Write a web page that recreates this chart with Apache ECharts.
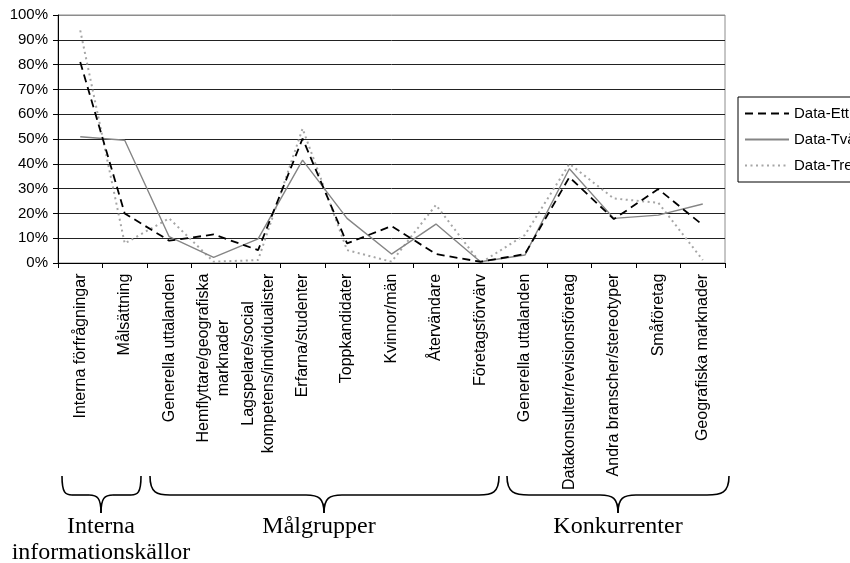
<!DOCTYPE html>
<html>
<head>
<meta charset="utf-8">
<script src="https://cdn.jsdelivr.net/npm/echarts@6/dist/echarts.min.js"></script>
<style>
  html, body { margin: 0; padding: 0; background: #ffffff; }
  #chart { width: 850px; height: 563px; }
</style>
</head>
<body>
<div id="chart"></div>
<script>
// Categories along the x axis (line breaks mark two-line labels)
const categories = [
  'Interna förfrågningar',
  'Målsättning',
  'Generella uttalanden',
  'Hemflyttare/geografiska\nmarknader',
  'Lagspelare/social\nkompetens/individualister',
  'Erfarna/studenter',
  'Toppkandidater',
  'Kvinnor/män',
  'Återvändare',
  'Företagsförvärv',
  'Generella uttalanden',
  'Datakonsulter/revisionsföretag',
  'Andra branscher/stereotyper',
  'Småföretag',
  'Geografiska marknader'
];

// Share of mentions per category, in percent
const dataEtt = [81, 20, 9, 11.5, 5.2, 50.2, 7.9, 14.9, 3.6, 0.5, 3.6, 34.6, 17.7, 29.8, 15.3];
const dataTva = [50.9, 49.5, 10.6, 2.3, 9.7, 41.5, 18, 3.6, 15.7, 0.5, 3.2, 38, 18, 19.3, 23.8];
const dataTre = [93.8, 7.9, 18, 0.5, 1.2, 54.2, 5.2, 0.5, 23.4, 0, 11.3, 40, 26, 24.3, 1.2];

const seriesNames = ['Data-Ett', 'Data-Två', 'Data-Tre'];

// Group captions under the category labels
const groupLabels = ['Interna\ninformationskällor', 'Målgrupper', 'Konkurrenter'];

const SANS = '"Liberation Sans", Arial, sans-serif';
const SERIF = '"Liberation Serif", "Times New Roman", serif';
const LABEL_SIZE = 16;

// Measure label lines so that two-line labels can be centred line by line
const measureCtx = document.createElement('canvas').getContext('2d');
measureCtx.font = LABEL_SIZE + 'px ' + SANS;
const rich = {};
categories.forEach(function (c, i) {
  const lines = c.split('\n');
  const w = Math.max.apply(null, lines.map(function (l) { return measureCtx.measureText(l).width; }));
  rich['w' + i] = {
    width: Math.ceil(w) + 1,
    align: 'center',
    fontSize: LABEL_SIZE,
    fontFamily: SANS,
    color: '#000',
    lineHeight: 20
  };
});

// Curly brace built from bezier curves and straight segments
function brace(x1, x2, xm, top, hy, tipY, rEnd1, rEnd2, rTip) {
  const st = { stroke: '#000', lineWidth: 1.6, fill: null };
  const els = [];
  els.push({ type: 'bezierCurve', silent: true, style: st,
    shape: { x1: x1, y1: top, cpx1: x1, cpy1: hy - 2, cpx2: x1 + rEnd1 * 0.35, cpy2: hy, x2: x1 + rEnd1, y2: hy } });
  els.push({ type: 'line', silent: true, style: st,
    shape: { x1: x1 + rEnd1, y1: hy, x2: xm - rTip, y2: hy } });
  els.push({ type: 'bezierCurve', silent: true, style: st,
    shape: { x1: xm - rTip, y1: hy, cpx1: xm - rTip * 0.3, cpy1: hy, cpx2: xm, cpy2: hy + 3, x2: xm, y2: tipY } });
  els.push({ type: 'bezierCurve', silent: true, style: st,
    shape: { x1: xm + rTip, y1: hy, cpx1: xm + rTip * 0.3, cpy1: hy, cpx2: xm, cpy2: hy + 3, x2: xm, y2: tipY } });
  els.push({ type: 'line', silent: true, style: st,
    shape: { x1: xm + rTip, y1: hy, x2: x2 - rEnd2, y2: hy } });
  els.push({ type: 'bezierCurve', silent: true, style: st,
    shape: { x1: x2, y1: top, cpx1: x2, cpy1: hy - 2, cpx2: x2 - rEnd2 * 0.35, cpy2: hy, x2: x2 - rEnd2, y2: hy } });
  return els;
}

const graphics = []
  .concat(brace(62, 141, 101, 476, 495, 513, 10, 10, 12))
  .concat(brace(150, 499, 324, 476, 495, 513, 20, 20, 18))
  .concat(brace(507, 729, 618, 476, 495, 513, 22, 22, 18));

const captionX = [101, 319, 618];
groupLabels.forEach(function (t, i) {
  graphics.push({
    type: 'text', silent: true,
    x: captionX[i], y: 514,
    style: {
      text: t, fill: '#000', font: '24px ' + SERIF,
      align: 'center', verticalAlign: 'top', lineHeight: 26
    }
  });
});

const chart = echarts.init(document.getElementById('chart'), null, { renderer: 'canvas' });

chart.setOption({
  backgroundColor: '#ffffff',
  animation: false,
  grid: {
    left: 58, right: 125, top: 15, bottom: 300,
    show: true, borderColor: '#8c8c8c', borderWidth: 1, backgroundColor: 'transparent'
  },
  legend: {
    orient: 'vertical',
    left: 738, top: 97,
    padding: [9, 30, 9, 6],
    itemGap: 11,
    itemWidth: 44,
    itemHeight: 14,
    borderColor: '#000',
    borderWidth: 1,
    data: seriesNames,
    itemStyle: { opacity: 0, borderWidth: 0 },
    textStyle: { fontSize: 15, fontFamily: SANS, color: '#000' }
  },
  xAxis: {
    type: 'category',
    data: categories,
    boundaryGap: true,
    axisLine: { show: true, lineStyle: { color: '#000', width: 1 } },
    axisTick: { show: true, length: 5, interval: 0, lineStyle: { color: '#000' } },
    axisLabel: {
      interval: 0,
      rotate: 90,
      margin: 10,
      color: '#000',
      fontSize: LABEL_SIZE,
      fontFamily: SANS,
      formatter: function (value, idx) {
        return value.split('\n').map(function (l) { return '{w' + idx + '|' + l + '}'; }).join('\n');
      },
      rich: rich
    },
    splitLine: { show: false }
  },
  yAxis: {
    type: 'value',
    min: 0, max: 100, interval: 10,
    axisLine: { show: true, lineStyle: { color: '#000', width: 1 } },
    axisTick: { show: true, length: 5, lineStyle: { color: '#000' } },
    axisLabel: {
      formatter: '{value}%',
      margin: 10,
      color: '#000',
      fontSize: 15,
      fontFamily: SANS
    },
    splitLine: {
      show: true,
      lineStyle: {
        color: ['#000', '#222', '#222', '#222', '#222', '#222', '#222', '#222', '#222', '#222', '#8c8c8c'],
        width: 1
      }
    }
  },
  series: [
    {
      name: seriesNames[0], type: 'line', data: dataEtt, symbol: 'none', z: 4,
      itemStyle: { color: '#000' },
      lineStyle: { color: '#000', width: 1.8, type: [8, 5] }
    },
    {
      name: seriesNames[1], type: 'line', data: dataTva, symbol: 'none', z: 3,
      itemStyle: { color: '#858585' },
      lineStyle: { color: '#858585', width: 1.4, type: 'solid' }
    },
    {
      name: seriesNames[2], type: 'line', data: dataTre, symbol: 'none', z: 2,
      itemStyle: { color: '#a6a6a6' },
      lineStyle: { color: '#a6a6a6', width: 2, type: [2, 3.5] }
    }
  ],
  graphic: { elements: graphics }
});
</script>
</body>
</html>
